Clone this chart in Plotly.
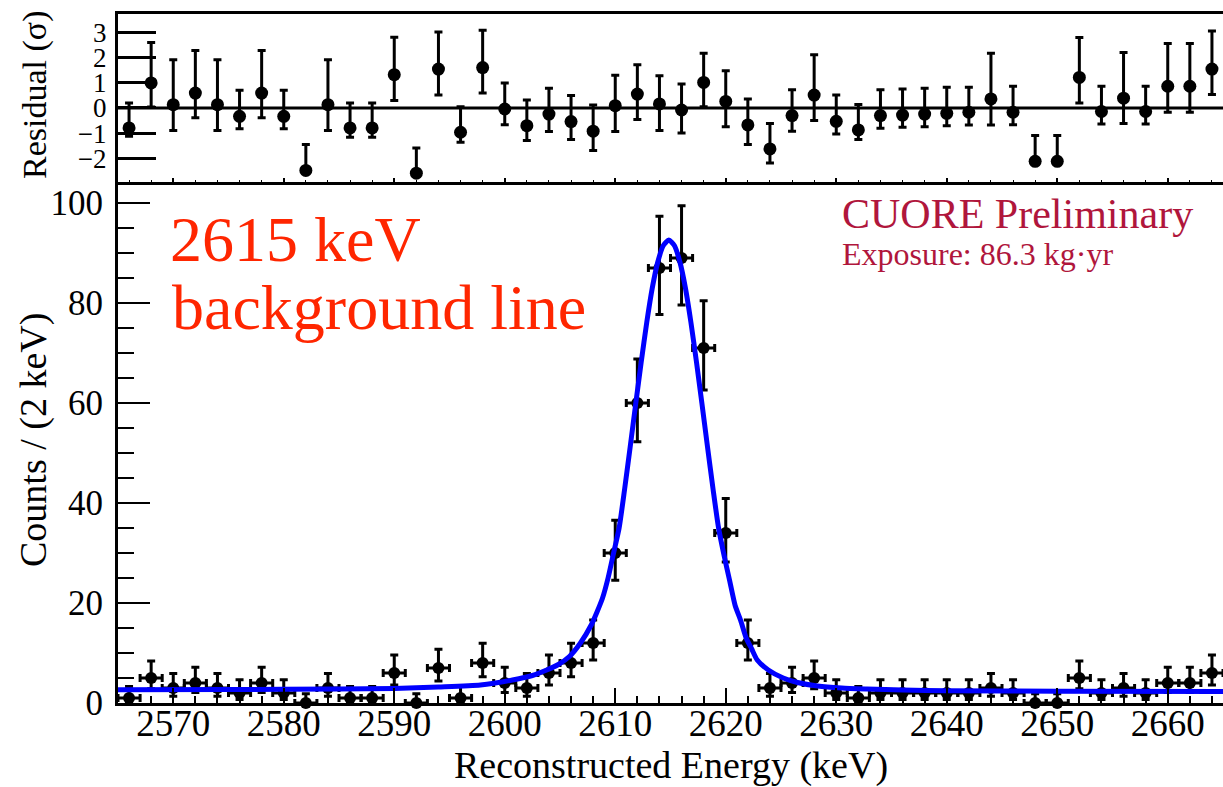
import plotly.graph_objects as go

# ---------------- data ----------------
energy = [2566, 2568, 2570, 2572, 2574, 2576, 2578, 2580, 2582, 2584,
          2586, 2588, 2590, 2592, 2594, 2596, 2598, 2600, 2602, 2604,
          2606, 2608, 2610, 2612, 2614, 2616, 2618, 2620, 2622, 2624,
          2626, 2628, 2630, 2632, 2634, 2636, 2638, 2640, 2642, 2644,
          2646, 2648, 2650, 2652, 2654, 2656, 2658, 2660, 2662, 2664]

counts = [1, 5, 3, 4, 3, 2, 4, 2, 0, 3,
          1, 1, 6, 0, 7, 1, 8, 4, 3, 6,
          8, 12, 30, 60, 87, 89, 71, 34, 12, 3,
          4, 5, 2, 1, 2, 2, 2, 2, 2, 3,
          2, 0, 0, 5, 2, 3, 2, 4, 4, 6]

counts_err_up = [2.30, 3.38, 2.92, 3.16, 2.92, 2.64, 3.16, 2.64, 1.84, 2.92,
                 2.30, 2.30, 3.58, 1.84, 3.77, 2.30, 3.95, 3.16, 2.92, 3.58,
                 3.95, 4.61, 6.55, 8.79, 10.36, 10.47, 9.46, 6.88, 4.61, 2.92,
                 3.16, 3.38, 2.64, 2.30, 2.64, 2.64, 2.64, 2.64, 2.64, 2.92,
                 2.64, 1.84, 1.84, 3.38, 2.64, 2.92, 2.64, 3.16, 3.16, 3.58]

counts_err_dn = [0.83, 2.16, 1.63, 1.91, 1.63, 1.29, 1.91, 1.29, 0.00, 1.63,
                 0.83, 0.83, 2.38, 0.00, 2.58, 0.83, 2.77, 1.91, 1.63, 2.38,
                 2.77, 3.41, 5.43, 7.73, 9.31, 9.42, 8.41, 5.80, 3.41, 1.63,
                 1.91, 2.16, 1.29, 0.83, 1.29, 1.29, 1.29, 1.29, 1.29, 1.63,
                 1.29, 0.00, 0.00, 2.16, 1.29, 1.63, 1.29, 1.91, 1.91, 2.38]

bin_half_width = [1.0] * len(energy)

# residuals (sigma) with the top / bottom ends of their error bars
residual = [-0.79, 0.99, 0.13, 0.59, 0.13, -0.33, 0.59, -0.33, -2.47, 0.13,
            -0.79, -0.79, 1.32, -2.58, 1.54, -0.96, 1.60, -0.04, -0.70, -0.24,
            -0.54, -0.92, 0.09, 0.55, 0.16, -0.08, 1.01, 0.26, -0.67, -1.62,
            -0.30, 0.51, -0.53, -0.87, -0.30, -0.28, -0.24, -0.21, -0.17, 0.36,
            -0.17, -2.11, -2.11, 1.21, -0.14, 0.39, -0.14, 0.86, 0.86, 1.54]

residual_top = [0.20, 2.59, 1.91, 2.28, 1.91, 0.70, 2.28, 0.70, -1.45, 1.91,
                0.20, 0.20, 2.80, -1.58, 3.01, 0.05, 3.08, 0.99, 0.32, 0.78,
                0.49, 0.12, 1.30, 1.71, 1.28, 0.95, 2.17, 1.47, 0.36, -0.61,
                0.72, 2.11, 0.51, 0.14, 0.72, 0.75, 0.78, 0.82, 0.82, 2.17,
                0.86, -1.09, -1.09, 2.79, 0.86, 2.20, 0.86, 2.55, 2.55, 3.05]

residual_bottom = [-1.12, 0.04, -0.89, -0.39, -0.89, -0.82, -0.39, -0.82, -2.47, -0.89,
                   -1.16, -1.16, 0.30, -2.58, 0.51, -1.36, 0.59, -0.66, -1.29, -0.93,
                   -1.25, -1.68, -0.93, -0.46, -0.89, -0.99, 0.05, -0.74, -1.45, -2.18,
                   -0.92, -0.50, -1.03, -1.25, -0.80, -0.76, -0.74, -0.70, -0.67, -0.67,
                   -0.66, -2.11, -2.11, 0.20, -0.63, -0.61, -0.63, -0.17, -0.17, 0.53]

# fitted line shape
fit_energy = [2565, 2575, 2585, 2590, 2594, 2597.8, 2600.7, 2602.5, 2603.8, 2604.85,
              2605.85, 2606.85, 2607.85, 2608.35, 2608.85, 2609.35, 2609.85, 2610.35,
              2610.85, 2611.35, 2611.85, 2612.35, 2612.85, 2613.35, 2613.85, 2614.35,
              2614.85, 2615.35, 2615.85, 2616.35, 2616.85, 2617.35, 2617.85, 2618.35,
              2618.85, 2619.35, 2619.85, 2620.35, 2620.85, 2621.35, 2621.85, 2622.35,
              2622.85, 2623.85, 2625.2, 2626.5, 2628.3, 2630.5, 2632.8, 2636, 2640,
              2650, 2665]
fit_counts = [2.65, 2.7, 2.8, 2.9, 3.2, 3.6, 4.6, 5.5, 6.6, 7.7,
              9.3, 12.0, 15.7, 18.2, 21.0, 25.0, 30.0, 35.0,
              42.8, 51.2, 59.8, 68.2, 76.1, 83.0, 88.2, 91.5,
              92.6, 91.5, 88.2, 83.0, 76.1, 68.2, 59.8, 51.2,
              42.8, 35.0, 29.5, 24.5, 19.5, 16.5, 13.0, 10.8,
              8.6, 6.6, 5.0, 4.1, 3.4, 3.0, 2.8, 2.6, 2.45,
              2.35, 2.3]

x_major = [2570, 2580, 2590, 2600, 2610, 2620, 2630, 2640, 2650, 2660]
y_major = [0, 20, 40, 60, 80, 100]
res_ticks = [-2, -1, 0, 1, 2, 3]
res_ticktext = ["\u22122", "\u22121", "0", "1", "2", "3"]

res_err_up = [t - c for t, c in zip(residual_top, residual)]
res_err_dn = [c - b for c, b in zip(residual, residual_bottom)]

# ---------------- figure ----------------
FONT = "Liberation Serif, Times New Roman, serif"
W, H = 1223, 787
L, R, T, B = 118, 0, 14, 84
split = (703 - 182) / (H - T - B)

fig = go.Figure()

fig.add_trace(go.Scatter(
    x=energy, y=counts, mode="markers",
    marker=dict(color="black", size=12),
    error_y=dict(type="data", symmetric=False, array=counts_err_up,
                 arrayminus=counts_err_dn, color="black", thickness=3, width=4),
    error_x=dict(type="data", array=bin_half_width, color="black",
                 thickness=3, width=4),
    cliponaxis=False, xaxis="x", yaxis="y", showlegend=False))

fig.add_trace(go.Scatter(
    x=fit_energy, y=fit_counts, mode="lines",
    line=dict(color="#0000ff", width=5, shape="spline", smoothing=0.6),
    xaxis="x", yaxis="y", showlegend=False))

fig.add_trace(go.Scatter(
    x=energy, y=residual, mode="markers",
    marker=dict(color="black", size=13),
    error_y=dict(type="data", symmetric=False, array=res_err_up,
                 arrayminus=res_err_dn, color="black", thickness=3, width=4),
    cliponaxis=False, xaxis="x2", yaxis="y2", showlegend=False))

fig.update_layout(
    width=W, height=H,
    margin=dict(l=L, r=R, t=T, b=B, pad=0),
    paper_bgcolor="white", plot_bgcolor="white",
    font=dict(family=FONT, color="black"),
    xaxis=dict(domain=[0, 1], range=[2565, 2665], anchor="y",
               tickvals=x_major, ticks="inside", ticklen=15, tickwidth=2,
               tickcolor="black", showline=True, linewidth=3, linecolor="black",
               showgrid=False, zeroline=False, ticklabelstandoff=-14,
               tickfont=dict(family=FONT, size=37, color="black"),
               minor=dict(dtick=2, tick0=2566, ticks="inside", ticklen=7, tickwidth=2,
                          tickcolor="black", showgrid=False)),
    yaxis=dict(domain=[0, split], range=[0, 104.2], anchor="x",
               tickvals=y_major, ticks="inside", ticklen=32, tickwidth=2,
               tickcolor="black", showline=True, linewidth=3, linecolor="black",
               showgrid=False, zeroline=False,
               tickfont=dict(family=FONT, size=35, color="black"),
               ticklabelstandoff=5,
               minor=dict(dtick=5, tick0=0, ticks="inside", ticklen=16, tickwidth=2,
                          tickcolor="black", showgrid=False)),
    xaxis2=dict(domain=[0, 1], range=[2565, 2665], anchor="y2", matches="x",
                tickvals=x_major, ticks="inside", ticklen=4, tickwidth=2,
                tickcolor="black", showticklabels=False, showline=True,
                linewidth=3, linecolor="black", mirror=True,
                showgrid=False, zeroline=False,
                minor=dict(dtick=2, tick0=2566, ticks="inside", ticklen=2, tickwidth=1,
                           tickcolor="black", showgrid=False)),
    yaxis2=dict(domain=[split, 1], range=[-2.93, 3.72], anchor="x2",
                tickvals=res_ticks, ticktext=res_ticktext, ticks="inside",
                ticklen=38, tickwidth=3, tickcolor="black", showline=True,
                linewidth=3, linecolor="black", showgrid=False, zeroline=False,
                ticklabelstandoff=3,
                tickfont=dict(family=FONT, size=27, color="black")),
)

# zero line in residual panel
fig.add_shape(type="line", xref="x2 domain", yref="y2", x0=0, x1=1, y0=0, y1=0,
              line=dict(color="black", width=3), layer="below")

def px_x(px):
    return (px - L) / (W - L - R)

def px_y(py):
    return (H - B - py) / (H - T - B)

annotations = [
    dict(text="Residual (\u03c3)", x=px_x(35), y=px_y(95), textangle=-90,
         font=dict(family=FONT, size=34, color="black")),
    dict(text="Counts / (2 keV)", x=px_x(33), y=px_y(440), textangle=-90,
         font=dict(family=FONT, size=38, color="black")),
    dict(text="Reconstructed Energy (keV)", x=px_x(671), y=px_y(765),
         font=dict(family=FONT, size=38, color="black")),
    dict(text="2615 keV", x=px_x(168), y=px_y(239), xanchor="left",
         font=dict(family=FONT, size=64, color="rgb(255,38,0)")),
    dict(text="background line", x=px_x(170), y=px_y(307), xanchor="left",
         font=dict(family=FONT, size=64, color="rgb(255,38,0)")),
    dict(text="CUORE Preliminary", x=px_x(840), y=px_y(214), xanchor="left",
         font=dict(family=FONT, size=42, color="#b0163c")),
    dict(text="Exposure: 86.3 kg\u00b7yr", x=px_x(840), y=px_y(254), xanchor="left",
         font=dict(family=FONT, size=32, color="#b0163c")),
]
for a in annotations:
    a.setdefault("xanchor", "center")
    fig.add_annotation(xref="paper", yref="paper", showarrow=False, yanchor="middle", **a)

fig.write_html("out.html")
